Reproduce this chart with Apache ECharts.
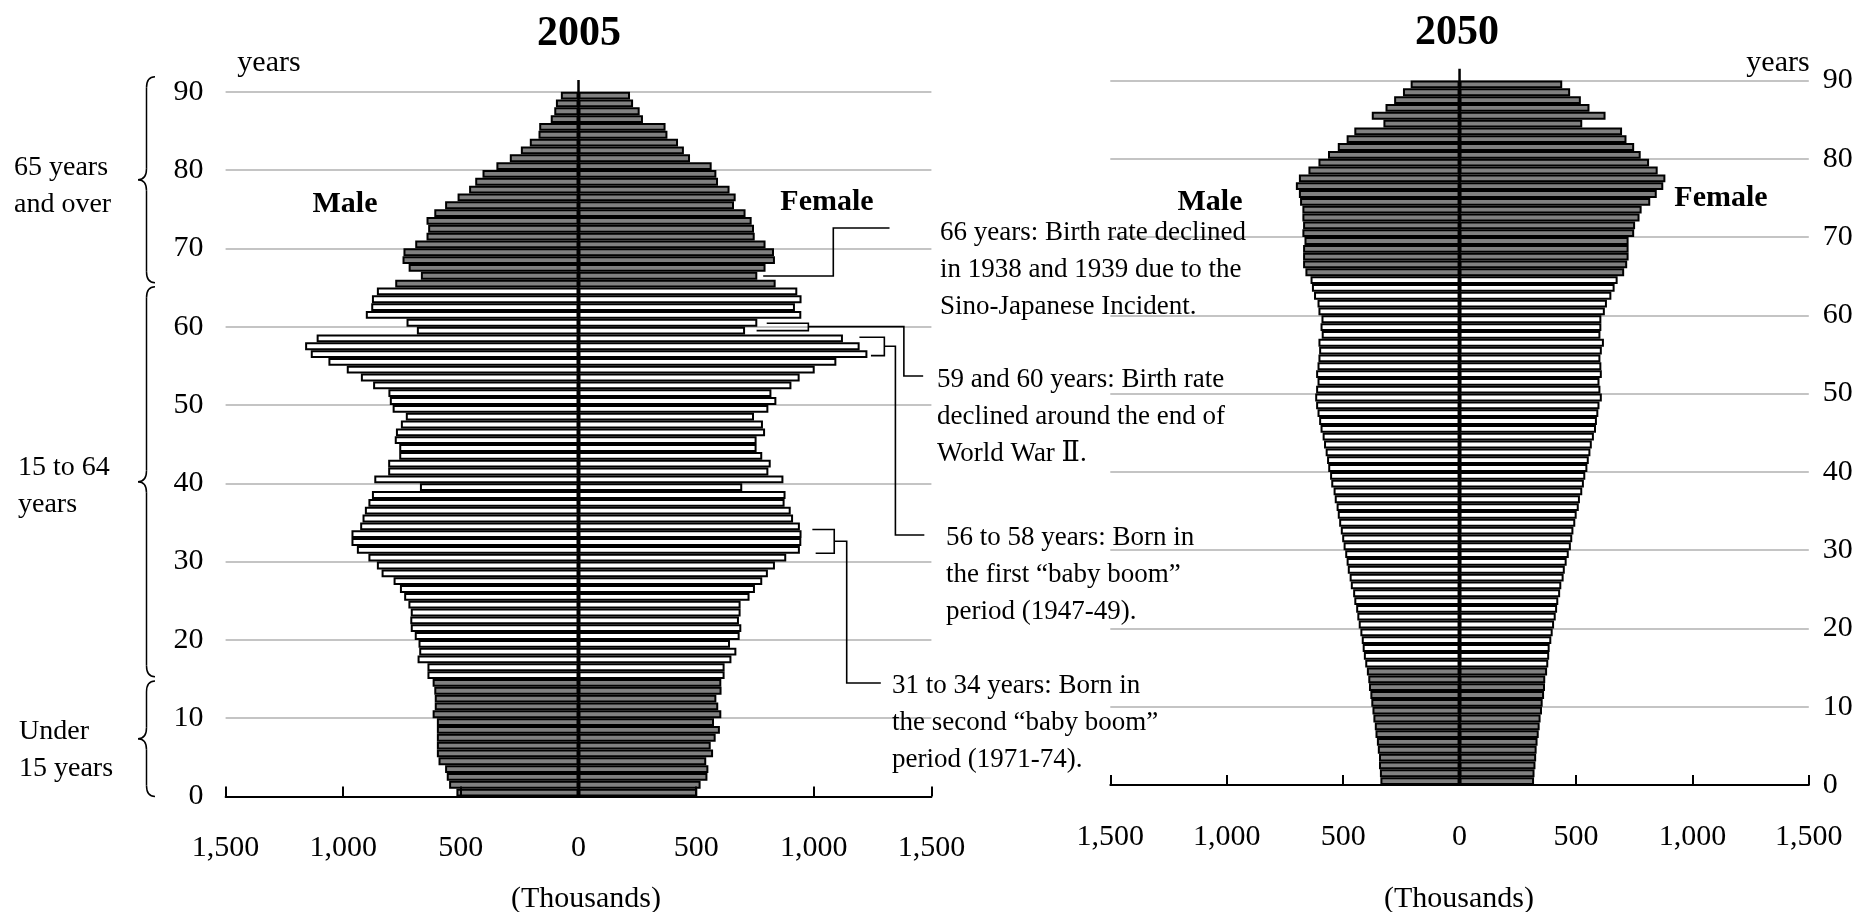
<!DOCTYPE html>
<html><head><meta charset="utf-8">
<script src="https://cdn.jsdelivr.net/npm/echarts@6/dist/echarts.min.js"></script>
<style>html,body{margin:0;padding:0;background:#fff}#c{width:1872px;height:912px}</style>
</head><body><div id="c"></div>
<script>
// ---------- data (thousands of persons, by single year of age 0..89) ----------
const ages = ['0','1','2','3','4','5','6','7','8','9','10','11','12','13','14','15','16','17','18','19',
 '20','21','22','23','24','25','26','27','28','29','30','31','32','33','34','35','36','37','38','39',
 '40','41','42','43','44','45','46','47','48','49','50','51','52','53','54','55','56','57','58','59',
 '60','61','62','63','64','65','66','67','68','69','70','71','72','73','74','75','76','77','78','79',
 '80','81','82','83','84','85','86','87','88','89'];

const male2005 = [519,550,560,567,595,602,602,602,602,602, 620,611,611,613,620,642,642,684,677,680,
 696,713,715,713,723,741,759,786,837,857, 893,942,965,965,928,918,908,893,878,674,
 868,809,809,762,762,781,776,755,734,790, 802,808,873,925,985,1063,1138,1162,1113,687,
 731,904,881,878,857,779,670,722,748,744, 694,646,639,646,613,567,514,465,439,408,
 349,292,245,207,170,167,118,103,96,75];
const female2005 = [505,519,548,552,543,572,562,583,601,576, 607,594,586,608,607,621,621,650,671,644,
 685,692,682,689,689,727,750,781,805,835, 883,941,947,948,941,912,902,876,880,696,
 871,807,817,781,757,757,793,784,746,807, 841,820,905,940,1004,1096,1228,1195,1124,708,
 760,947,920,948,930,838,760,795,835,831, 795,749,746,736,710,661,668,642,593,586,
 566,474,448,423,378,370,274,260,232,219];
const male2050 = [340,342,346,346,351,355,361,364,370,374, 379,383,389,392,398,405,411,416,420,426,
 433,439,444,452,457,467,472,480,485,491, 498,504,510,517,523,528,536,541,551,556,
 564,569,575,582,588,597,603,610,616,620, 616,610,616,610,606,603,606,592,597,593,
 606,610,625,634,640,662,672,672,672,666, 675,672,675,675,685,690,703,690,649,606,
 565,523,485,452,327,377,318,281,243,210];
const female2050 = [320,322,326,329,331,335,340,344,348,354, 357,363,367,368,376,381,385,387,394,400,
 406,413,419,424,432,437,447,452,460,469, 478,484,489,497,503,512,517,527,534,540,
 549,555,562,568,577,586,590,596,601,611, 605,601,611,609,605,611,620,605,609,609,
 624,633,652,666,679,707,720,726,726,726, 750,754,773,782,819,847,875,884,851,814,
 778,750,717,698,527,627,558,521,475,441];

const xTicks = [-1500,-1000,-500,0,500,1000,1500];
const yTicks = [0,10,20,30,40,50,60,70,80,90];

// ---------- styling ----------
const FONT = '"Liberation Serif","DejaVu Serif",serif';
const GRAY = '#808080';
const barColor = p => (p.dataIndex < 15 || p.dataIndex >= 65) ? GRAY : '#ffffff';
const fmt = v => Math.abs(v).toLocaleString('en-US');

function xAx(g){
  return {gridIndex:g, type:'value', min:xTicks[0], max:xTicks[xTicks.length-1], interval:xTicks[1]-xTicks[0], z:5,
    axisLine:{show:true,onZero:false,lineStyle:{color:'#000',width:2}},
    axisTick:{show:true,inside:true,length:10,lineStyle:{color:'#000',width:2}},
    axisLabel:{formatter:fmt,color:'#000',fontFamily:FONT,fontSize:30,margin:37},
    splitLine:{show:false}};
}
function yCat(g){ return {gridIndex:g, type:'category', data:ages, show:false}; }
function yVal(g,pos,margin){
  return {gridIndex:g, type:'value', min:yTicks[0], max:yTicks[yTicks.length-1], interval:yTicks[1]-yTicks[0], position:pos,
    axisLine:{show:false,onZero:false}, axisTick:{show:false},
    axisLabel:{color:'#000',fontFamily:FONT,fontSize:30,margin:margin},
    splitLine:{show:true,lineStyle:{color:'#c4c4c4',width:2}}};
}
function bar(xi, yi, data, neg){
  return {type:'bar', xAxisIndex:xi, yAxisIndex:yi, data: data.map(v => neg ? -v : v),
    barCategoryGap:0, barGap:'-100%', silent:true, z:3,
    itemStyle:{color:barColor, borderColor:'#000', borderWidth:2}};
}

const chart = echarts.init(document.getElementById('c'));
chart.setOption({
  animation:false,
  grid:[
    {left:225.6, top:91.7, width:705.8, height:704.8, containLabel:false, outerBoundsMode:'none'},
    {left:1110.3, top:80.5, width:698.5, height:704.5, containLabel:false, outerBoundsMode:'none'}
  ],
  xAxis:[xAx(0), xAx(1)],
  yAxis:[yCat(0), yVal(0,'left',22), yCat(1), yVal(1,'right',14)],
  series:[
    bar(0,0,male2005,true), bar(0,0,female2005,false),
    bar(1,2,male2050,true), bar(1,2,female2050,false)
  ]
});

// ---------- annotations (positions derived from the axes) ----------
const X = (g,v) => chart.convertToPixel({xAxisIndex:g}, v);
const Y = (g,a) => chart.convertToPixel({yAxisIndex:g*2+1}, a);
const P = (v,a) => [X(0,v), Y(0,a)];
const LINE = {stroke:'#000', lineWidth:1.6, fill:null};

function txt(x,y,text,size,bold,align){
  return {type:'text', x:x, y:y, z:50, style:{text:text, fill:'#000',
    font:(bold?'bold ':'')+size+'px '+FONT, align:align||'center', textAlign:align||'center',
    verticalAlign:'middle', textVerticalAlign:'middle', lineHeight:37}};
}
function poly(pts){ return {type:'polyline', z:40, shape:{points:pts}, style:LINE}; }
function seg(x1,y1,x2,y2){ return {type:'line', z:40, shape:{x1,y1,x2,y2}, style:{stroke:'#000',lineWidth:1.5}}; }
function qb(x1,y1,cx,cy,x2,y2){ return {type:'bezierCurve', z:40, shape:{x1,y1,x2,y2,cpx1:cx,cpy1:cy}, style:{stroke:'#000',lineWidth:1.5,fill:null}}; }
function brace(a0,a1,out){
  const y0=Y(0,a0), y1=Y(0,a1), ym=(y0+y1)/2, xe=155, xs=146.5, xt=138, r=11;
  out.push(qb(xe,y0,xs,y0,xs,y0+r));
  out.push(seg(xs,y0+r,xs,ym-r));
  out.push(qb(xs,ym-r,xs,ym,xt,ym));
  out.push(qb(xt,ym,xs,ym,xs,ym+r));
  out.push(seg(xs,ym+r,xs,y1-r));
  out.push(qb(xs,y1-r,xs,y1,xe,y1));
}

const g = [];
// center lines
g.push({type:'line', z:60, shape:{x1:X(0,0),y1:Y(0,91.5),x2:X(0,0),y2:Y(0,0)}, style:{stroke:'#000',lineWidth:2.5}});
g.push({type:'line', z:60, shape:{x1:X(1,0),y1:Y(1,91.5),x2:X(1,0),y2:Y(1,0)}, style:{stroke:'#000',lineWidth:2.5}});
// titles and labels
g.push(txt(579,34,'2005',42,true));
g.push(txt(1457,33,'2050',42,true));
g.push(txt(269,63,'years',30,false));
g.push(txt(1778,63,'years',30,false));
g.push(txt(345,204,'Male',30,true));
g.push(txt(827,202,'Female',30,true));
g.push(txt(1210,202,'Male',30,true));
g.push(txt(1721,198,'Female',30,true));
g.push(txt(586,899,'(Thousands)',30,false));
g.push(txt(1459,899,'(Thousands)',30,false));
// age group braces and labels
brace(91.9,65.6,g); brace(65.1,15.3,g); brace(14.75,0,g);
g.push(txt(14,186,'65 years\nand over',28,false,'left'));
g.push(txt(18,486,'15 to 64\nyears',28,false,'left'));
g.push(txt(19,750,'Under\n15 years',28,false,'left'));
// 66 years
g.push(poly([P(785,66.47),P(1083,66.47),P(1083,72.6),P(1322,72.6)]));
g.push(txt(940,270,'66 years: Birth rate declined\nin 1938 and 1939 due to the\nSino-Japanese Incident.',27,false,'left'));
// 59 and 60
g.push(poly([P(800,60.43),P(977,60.43),P(977,59.49),P(757,59.49)]));
g.push(poly([P(977,60),P(1383,60),P(1383,53.7),P(1465,53.7)]));
g.push(txt(937,417,'59 and 60 years: Birth rate\ndeclined around the end of\nWorld War \u2161.',27,false,'left'));
// 56 to 58
g.push(poly([P(1194,58.65),P(1300,58.65),P(1300,56.3),P(1243,56.3)]));
g.push(poly([P(1300,57.5),P(1347,57.5),P(1347,33.4),P(1470,33.4)]));
g.push(txt(946,575,'56 to 58 years: Born in\nthe first \u201cbaby boom\u201d\nperiod (1947-49).',27,false,'left'));
// 31 to 34
g.push(poly([P(994,34.1),P(1087,34.1),P(1087,31.06),P(1008,31.06)]));
g.push(poly([P(1087,32.6),P(1140,32.6),P(1140,14.5),P(1285,14.5)]));
g.push(txt(892,723,'31 to 34 years: Born in\nthe second \u201cbaby boom\u201d\nperiod (1971-74).',27,false,'left'));

chart.setOption({graphic:{elements:g}});
</script></body></html>
